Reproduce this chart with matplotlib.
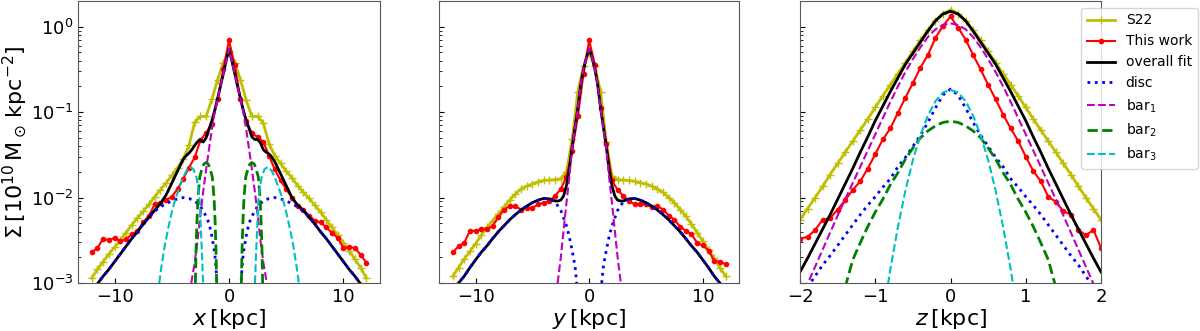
import numpy as np
import matplotlib

matplotlib.use("Agg")

import matplotlib.pyplot as plt

# all profile values are log10(Sigma / 1e10 Msun kpc^-2)

# ---------------- x profile ----------------
x_grid = np.arange(-12, 12.01, 0.5)
x_s22 = [-2.94, -2.84, -2.75, -2.66, -2.58, -2.50, -2.41, -2.32, -2.24, -2.16,
         -2.08, -1.99, -1.91, -1.83, -1.74, -1.65, -1.55, -1.39, -1.12, -1.05,
         -1.05, -0.85, -0.62, -0.42, -0.29, -0.42, -0.62, -0.86, -1.05, -1.05,
         -1.13, -1.37, -1.51, -1.60, -1.69, -1.77, -1.86, -1.94, -2.01, -2.09,
         -2.17, -2.26, -2.35, -2.44, -2.53, -2.62, -2.72, -2.82, -2.94]
x_this = [-2.64, -2.59, -2.48, -2.50, -2.47, -2.51, -2.49, -2.43, -2.39, -2.29,
          -2.21, -2.08, -2.06, -2.03, -1.99, -1.90, -1.78, -1.65, -1.53, -1.33,
          -1.24, -1.14, -0.85, -0.50, -0.16, -0.45, -0.85, -1.10, -1.25, -1.29,
          -1.35, -1.51, -1.67, -1.80, -1.90, -2.00, -2.10, -2.15, -2.21, -2.27,
          -2.29, -2.35, -2.41, -2.47, -2.59, -2.58, -2.59, -2.67, -2.76]

x_fit = [-12, -11.5, -11, -10.5, -10, -9.5, -9, -8.5, -8, -7.5, -7, -6.5, -6,
         -5.5, -5, -4.5, -4, -3.75, -3.5, -3.25, -3, -2.75, -2.5, -2.25, -2,
         -1.75, -1.5, -1.25, -1, -0.75, -0.5, -0.25, 0, 0.25, 0.5, 0.75, 1,
         1.25, 1.5, 1.75, 2, 2.25, 2.5, 2.75, 3, 3.25, 3.5, 3.75, 4, 4.5, 5,
         5.5, 6, 6.5, 7, 7.5, 8, 8.5, 9, 9.5, 10, 10.5, 11, 11.5, 12]
x_overall = [-3.1, -3.01, -2.92, -2.84, -2.75, -2.66, -2.57, -2.48, -2.40, -2.31,
             -2.23, -2.15, -2.07, -1.97, -1.83, -1.69, -1.55, -1.51, -1.48,
             -1.44, -1.39, -1.345, -1.325, -1.35, -1.30, -1.20, -1.10, -0.98,
             -0.84, -0.70, -0.55, -0.40, -0.26, -0.40, -0.55, -0.70, -0.84,
             -0.98, -1.10, -1.19, -1.29, -1.32, -1.32, -1.36, -1.44, -1.47,
             -1.49, -1.53, -1.58, -1.72, -1.86, -2.00, -2.09, -2.15, -2.23,
             -2.31, -2.40, -2.48, -2.57, -2.66, -2.75, -2.84, -2.92, -3.01, -3.1]

x_disc_pos = [-12, -11.5, -11, -10.5, -10, -9.5, -9, -8.5, -8, -7.5, -7, -6.5,
              -6, -5.5, -5, -4.5, -4, -3.5, -3, -2.5, -2, -1.75, -1.5, -1.25,
              -1.15, -1.05]
x_disc = [-3.1, -3.01, -2.92, -2.84, -2.75, -2.66, -2.57, -2.48, -2.40, -2.31,
          -2.23, -2.16, -2.11, -2.07, -2.04, -2.015, -2.0, -2.01, -2.04, -2.1,
          -2.22, -2.3, -2.45, -2.65, -2.8, -3.0]

x_bar1_pos = [-3.3, -3.0, -2.75, -2.5, -2.25, -2.0, -1.75, -1.5, -1.25, -1.0,
              -0.75, -0.5, -0.25, 0, 0.25, 0.5, 0.75, 1.0, 1.25, 1.5, 1.75,
              2.0, 2.25, 2.5, 2.75, 3.0, 3.3]
x_bar1 = [-3.0, -2.76, -2.5, -2.2, -1.92, -1.67, -1.43, -1.2, -1.0, -0.85,
          -0.70, -0.55, -0.40, -0.26, -0.40, -0.55, -0.70, -0.85, -1.0, -1.2,
          -1.43, -1.67, -1.92, -2.2, -2.5, -2.76, -3.0]

x_bar2_pos = [-2.94, -2.88, -2.81, -2.71, -2.56, -2.36, -2.21, -2.01, -1.81,
              -1.66, -1.46, -1.31, -1.21, -1.14, -1.08]
x_bar2 = [-3.0, -2.6, -2.3, -2.0, -1.76, -1.66, -1.61, -1.59, -1.61, -1.66,
          -1.76, -2.0, -2.3, -2.6, -3.0]
x_bar2_pos_r = [1.08, 1.14, 1.21, 1.31, 1.46, 1.66, 1.81, 2.01, 2.21, 2.36,
                2.56, 2.71, 2.81, 2.88, 2.94]
x_bar2_r = [-3.0, -2.6, -2.3, -2.0, -1.76, -1.66, -1.61, -1.59, -1.61, -1.66,
            -1.76, -2.0, -2.3, -2.6, -3.0]

x_bar3_pos = [-6.1, -5.9, -5.6, -5.3, -5.0, -4.7, -4.3, -4.0, -3.7, -3.4, -3.1,
              -2.85, -2.7, -2.55, -2.45, -2.35, -2.27]
x_bar3 = [-3.0, -2.8, -2.55, -2.35, -2.17, -2.02, -1.87, -1.76, -1.68, -1.64,
          -1.67, -1.76, -1.88, -2.05, -2.4, -2.7, -3.0]
x_bar3_pos_r = [2.27, 2.35, 2.45, 2.55, 2.7, 2.85, 3.1, 3.4, 3.7, 4.0, 4.3, 4.7,
                5.0, 5.3, 5.6, 5.9, 6.1]
x_bar3_r = [-3.0, -2.7, -2.4, -2.05, -1.88, -1.76, -1.67, -1.64, -1.68, -1.76,
            -1.87, -2.02, -2.17, -2.35, -2.55, -2.8, -3.0]

# ---------------- y profile ----------------
y_grid = np.arange(-12, 12.01, 0.5)
y_s22 = [-2.92, -2.82, -2.72, -2.63, -2.54, -2.44, -2.35, -2.27, -2.19, -2.11,
         -2.03, -1.96, -1.90, -1.865, -1.84, -1.815, -1.80, -1.795, -1.79,
         -1.78, -1.70, -1.32, -0.76, -0.46, -0.30, -0.46, -0.76, -1.35, -1.75,
         -1.79, -1.795, -1.80, -1.81, -1.825, -1.84, -1.865, -1.90, -1.94,
         -2.0, -2.06, -2.14, -2.22, -2.31, -2.41, -2.51, -2.61, -2.71, -2.82,
         -2.92]
y_this = [-2.64, -2.57, -2.53, -2.39, -2.39, -2.37, -2.37, -2.33, -2.23, -2.14,
          -2.10, -2.10, -2.14, -2.12, -2.12, -2.08, -2.06, -2.04, -1.98, -1.90,
          -1.76, -1.45, -1.05, -0.55, -0.16, -0.45, -0.95, -1.37, -1.80, -1.91,
          -1.98, -2.04, -2.08, -2.08, -2.08, -2.11, -2.10, -2.14, -2.21, -2.26,
          -2.34, -2.39, -2.43, -2.53, -2.56, -2.62, -2.74, -2.75, -2.78]

y_fit = [-12, -11.5, -11, -10.5, -10, -9.5, -9, -8.5, -8, -7.5, -7, -6.5, -6,
         -5.5, -5, -4.5, -4, -3.5, -3, -2.75, -2.5, -2.25, -2, -1.75, -1.5,
         -1.25, -1, -0.75, -0.5, -0.25, 0, 0.25, 0.5, 0.75, 1, 1.25, 1.5, 1.75,
         2, 2.25, 2.5, 2.75, 3, 3.5, 4, 4.5, 5, 5.5, 6, 6.5, 7, 7.5, 8, 8.5, 9,
         9.5, 10, 10.5, 11, 11.5, 12]
y_overall = [-3.1, -3.0, -2.92, -2.82, -2.73, -2.64, -2.565, -2.48, -2.40,
             -2.33, -2.26, -2.20, -2.145, -2.10, -2.06, -2.03, -2.01, -2.015,
             -2.04, -2.04, -2.03, -1.98, -1.86, -1.67, -1.40, -1.18, -0.95,
             -0.68, -0.50, -0.36, -0.26, -0.36, -0.50, -0.68, -0.95, -1.18,
             -1.40, -1.67, -1.86, -1.98, -2.03, -2.04, -2.04, -2.015, -2.01,
             -2.03, -2.06, -2.10, -2.145, -2.20, -2.26, -2.33, -2.40, -2.48,
             -2.565, -2.64, -2.73, -2.82, -2.92, -3.0, -3.1]

y_disc_pos = [-12, -11.5, -11, -10.5, -10, -9.5, -9, -8.5, -8, -7.5, -7, -6.5,
              -6, -5.5, -5, -4.5, -4, -3.5, -3, -2.5, -2, -1.75, -1.5, -1.25,
              -1.1]
y_disc = [-3.1, -3.0, -2.92, -2.82, -2.73, -2.64, -2.565, -2.48, -2.40, -2.33,
          -2.26, -2.20, -2.145, -2.10, -2.06, -2.03, -2.01, -2.015, -2.05,
          -2.15, -2.33, -2.46, -2.62, -2.8, -3.0]
y_disc_pos_r = [1.1, 1.25, 1.5, 1.75, 2, 2.5, 3, 3.5, 4, 4.5, 5, 5.5, 6, 6.5, 7,
                7.5, 8, 8.5, 9, 9.5, 10, 10.5, 11, 11.5, 12]
y_disc_r = [-3.0, -2.8, -2.62, -2.46, -2.33, -2.15, -2.05, -2.015, -2.01, -2.03,
            -2.06, -2.10, -2.145, -2.20, -2.26, -2.33, -2.40, -2.48, -2.565,
            -2.64, -2.73, -2.82, -2.92, -3.0, -3.1]

y_bar1_pos = [-2.78, -2.5, -2.25, -2.0, -1.75, -1.5, -1.25, -1.0, -0.75, -0.5,
              -0.25, 0, 0.25, 0.5, 0.75, 1.0, 1.25, 1.5, 1.75, 2.0, 2.25, 2.5,
              2.78]
y_bar1 = [-3.0, -2.70, -2.38, -2.06, -1.76, -1.42, -1.19, -0.95, -0.68, -0.50,
          -0.36, -0.26, -0.36, -0.50, -0.68, -0.95, -1.19, -1.42, -1.76, -2.06,
          -2.38, -2.70, -3.0]

# ---------------- z profile ----------------
z_grid = np.arange(-2, 2.001, 0.1)
z_s22 = [-2.26, -2.13, -2.0, -1.87, -1.73, -1.60, -1.47, -1.34, -1.21, -1.08,
         -0.945, -0.81, -0.68, -0.55, -0.42, -0.29, -0.16, -0.04, 0.07, 0.15,
         0.20, 0.15, 0.07, -0.04, -0.16, -0.29, -0.42, -0.55, -0.68, -0.81,
         -0.945, -1.08, -1.21, -1.34, -1.47, -1.60, -1.73, -1.87, -2.0, -2.13,
         -2.26]
z_this = [-2.48, -2.46, -2.38, -2.26, -2.24, -2.14, -2.03, -1.91, -1.81, -1.66,
          -1.49, -1.32, -1.19, -1.01, -0.83, -0.66, -0.48, -0.33, -0.13, 0.01,
          0.12, -0.01, -0.15, -0.33, -0.50, -0.68, -0.85, -1.03, -1.19, -1.34,
          -1.52, -1.69, -1.81, -1.99, -2.05, -2.16, -2.20, -2.38, -2.44, -2.38,
          -2.59]
z_overall = [-2.87, -2.71, -2.54, -2.37, -2.2, -2.02, -1.84, -1.66, -1.47,
             -1.29, -1.1, -0.93, -0.76, -0.6, -0.44, -0.31, -0.18, -0.05, 0.07,
             0.15, 0.18, 0.15, 0.07, -0.05, -0.18, -0.31, -0.44, -0.6, -0.76,
             -0.93, -1.1, -1.29, -1.47, -1.66, -1.84, -2.02, -2.2, -2.37, -2.54,
             -2.71, -2.87]
z_disc = [-3.2, -3.05, -2.92, -2.79, -2.68, -2.56, -2.44, -2.32, -2.2, -2.09,
          -1.99, -1.88, -1.78, -1.64, -1.53, -1.40, -1.27, -1.12, -0.95, -0.80,
          -0.73, -0.80, -0.95, -1.12, -1.27, -1.40, -1.53, -1.64, -1.78, -1.88,
          -1.99, -2.09, -2.2, -2.32, -2.44, -2.56, -2.68, -2.79, -2.92, -3.05,
          -3.2]
z_bar1 = [-3.2, -3.01, -2.81, -2.61, -2.41, -2.21, -2.02, -1.83, -1.64, -1.45,
          -1.26, -1.07, -0.88, -0.70, -0.53, -0.38, -0.24, -0.12, -0.03, 0.02,
          0.04, 0.02, -0.03, -0.12, -0.24, -0.38, -0.53, -0.70, -0.88, -1.07,
          -1.26, -1.45, -1.64, -1.83, -2.02, -2.21, -2.41, -2.61, -2.81, -3.01,
          -3.2]
z_bar2_pos = np.arange(-1.4, 1.401, 0.1)
z_bar2 = [-3.05, -2.73, -2.53, -2.34, -2.17, -2.02, -1.85, -1.71, -1.55, -1.42,
          -1.30, -1.22, -1.16, -1.12, -1.107, -1.12, -1.16, -1.22, -1.30,
          -1.42, -1.55, -1.71, -1.85, -2.02, -2.17, -2.34, -2.53, -2.73, -3.05]
z_bar3_pos = np.arange(-0.9, 0.901, 0.1)
z_bar3 = [-3.4, -2.84, -2.35, -1.92, -1.56, -1.27, -1.04, -0.87, -0.77, -0.74,
          -0.77, -0.87, -1.04, -1.27, -1.56, -1.92, -2.35, -2.84, -3.4]


def sig(v):
    return 10.0 ** np.asarray(v)


def style_axis(ax):
    ax.set_yscale("log")
    ax.set_ylim(1e-3, 2.0)
    ax.tick_params(which="both", direction="in", labelsize=13)
    for sp in ax.spines.values():
        sp.set_color("0.35")


fig = plt.figure(figsize=(12, 3.31), dpi=100)
ax1 = fig.add_axes([0.065, 0.145, 0.2517, 0.852])
ax2 = fig.add_axes([0.366, 0.145, 0.25, 0.852], sharey=ax1)
ax3 = fig.add_axes([0.6667, 0.145, 0.2508, 0.852], sharey=ax1)

data_kw = dict(s22=dict(color="y", marker="+", lw=2, ms=6),
               this=dict(color="r", marker=".", lw=1.5, ms=6))

# x panel
ax1.plot(x_grid, sig(x_s22), **data_kw["s22"])
ax1.plot(x_grid, sig(x_this), **data_kw["this"])
ax1.plot(x_fit, sig(x_overall), color="k", lw=2)
ax1.plot(x_disc_pos, sig(x_disc), "b:", lw=2)
ax1.plot(-np.array(x_disc_pos), sig(x_disc), "b:", lw=2)
ax1.plot(x_bar1_pos, sig(x_bar1), "m--", lw=1.5)
ax1.plot(x_bar2_pos, sig(x_bar2), "g--", lw=2)
ax1.plot(x_bar2_pos_r, sig(x_bar2_r), "g--", lw=2)
ax1.plot(x_bar3_pos, sig(x_bar3), "c--", lw=1.5)
ax1.plot(x_bar3_pos_r, sig(x_bar3_r), "c--", lw=1.5)
ax1.set_xlim(-13.2, 13.2)
ax1.set_xlabel(r"$x\,[\rm kpc]$", fontsize=16, labelpad=1)
ax1.set_ylabel(r"$\Sigma\,[10^{10}\,\rm M_\odot\,kpc^{-2}]$", fontsize=16,
               labelpad=1)

# y panel
ax2.plot(y_grid, sig(y_s22), **data_kw["s22"])
ax2.plot(y_grid, sig(y_this), **data_kw["this"])
ax2.plot(y_fit, sig(y_overall), color="k", lw=2)
ax2.plot(y_disc_pos, sig(y_disc), "b:", lw=2)
ax2.plot(y_disc_pos_r, sig(y_disc_r), "b:", lw=2)
ax2.plot(y_bar1_pos, sig(y_bar1), "m--", lw=1.5)
ax2.set_xlim(-13.2, 13.2)
ax2.set_xlabel(r"$y\,[\rm kpc]$", fontsize=16, labelpad=1)

# z panel
ax3.plot(z_grid, sig(z_s22), label="S22", **data_kw["s22"])
ax3.plot(z_grid, sig(z_this), label="This work", **data_kw["this"])
ax3.plot(z_grid, sig(z_overall), color="k", lw=2, label="overall fit")
ax3.plot(z_grid, sig(z_disc), "b:", lw=2, label="disc")
ax3.plot(z_grid, sig(z_bar1), "m--", lw=1.5, label=r"bar$_1$")
ax3.plot(z_bar2_pos, sig(z_bar2), "g--", lw=2, label=r"bar$_2$")
ax3.plot(z_bar3_pos, sig(z_bar3), "c--", lw=1.5, label=r"bar$_3$")
ax3.set_xlim(-2, 2)
ax3.set_xlabel(r"$z\,[\rm kpc]$", fontsize=16, labelpad=1)

for ax in (ax1, ax2, ax3):
    style_axis(ax)
ax2.tick_params(labelleft=False)
ax3.tick_params(labelleft=False)

ax3.legend(loc="upper right", bbox_to_anchor=(0.998, 0.976),
           bbox_transform=fig.transFigure, borderaxespad=0, fontsize=10)

fig.savefig("out.png", dpi=100)
